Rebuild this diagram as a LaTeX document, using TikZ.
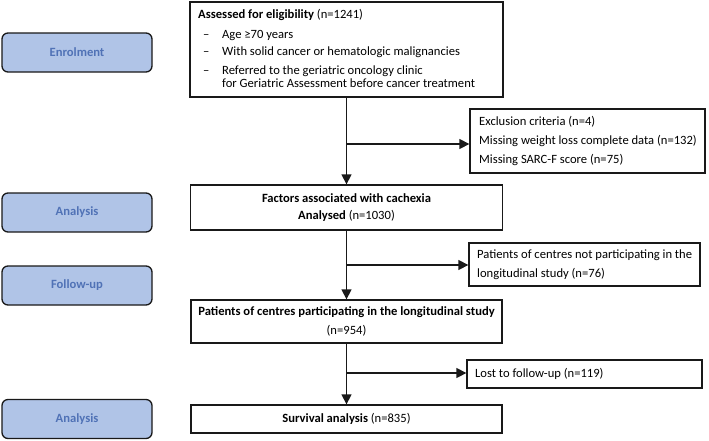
\documentclass[tikz,border=0pt]{standalone}
\usepackage{fontspec}
\setmainfont{Carlito}
\usetikzlibrary{arrows.meta}
\definecolor{phasefill}{RGB}{176,196,231}
\definecolor{phasetext}{RGB}{80,114,182}
\definecolor{edge}{RGB}{25,25,25}
\begin{document}
\begin{tikzpicture}[x=1pt,y=-1pt,
  every node/.style={font=\fontsize{12.6}{13.2}\selectfont},
  phase/.style={draw=edge, line width=1.3pt, rounded corners=6pt, fill=phasefill,
    text=phasetext, font=\fontsize{12.6}{13.2}\selectfont\bfseries,
    minimum width=150pt, minimum height=39pt, inner sep=0pt},
  mainbox/.style={draw=edge, line width=1.3pt, inner sep=0pt, align=center},
  txt/.style={anchor=west, align=left, inner sep=0pt},
  flow/.style={draw=edge, line width=1.3pt, -{Triangle[length=10pt,width=10pt]}},
  link/.style={draw=edge, line width=1.3pt}]
\useasboundingbox (0,0) rectangle (709,440);

% phase labels
\node[phase] (enrol)  at (77,52.5)  {Enrolment};
\node[phase] (anal1)  at (77,212.5) {Analysis};
\node[phase] (follow) at (77,285.5) {Follow-up};
\node[phase] (anal2)  at (77,419)   {Analysis};

% main boxes
\node[mainbox, minimum width=313pt, minimum height=95pt] (assess) at (346.5,49.5) {};
\node[txt, anchor=north west] (assesstxt) at (198,9) {%
  \textbf{Assessed for eligibility} (n=1241)\\[7pt]
  \hspace*{5pt}\makebox[19pt][l]{--}Age ≥70 years\\[4pt]
  \hspace*{5pt}\makebox[19pt][l]{--}With solid cancer or hematologic malignancies\\[5pt]
  \hspace*{5pt}\makebox[19pt][l]{--}Referred to the geriatric oncology clinic\\
  \hspace*{24pt}for Geriatric Assessment before cancer treatment};

\node[mainbox, minimum width=312pt, minimum height=45pt] (factors) at (346.5,207.5)
  {\textbf{Factors associated with cachexia}\\[4pt]\textbf{Analysed} (n=1030)};

\node[mainbox, minimum width=311pt, minimum height=43pt] (partic) at (346.5,321.5)
  {\textbf{Patients of centres participating in the longitudinal study}\\[6pt](n=954)};

\node[mainbox, minimum width=311pt, minimum height=28pt] (surv) at (346.5,419)
  {\textbf{Survival analysis} (n=835)};

% side boxes
\node[mainbox, minimum width=235pt, minimum height=64pt] (excl) at (587.5,141) {};
\node[txt] (excltxt) at (479,141) {Exclusion criteria (n=4)\\[6pt]
  Missing weight loss complete data (n=132)\\[6pt]
  Missing SARC-F score (n=75)};

\node[mainbox, minimum width=231pt, minimum height=43pt] (notpart) at (584.5,264.5) {};
\node[txt] (notparttxt) at (477,264.5) {Patients of centres not participating in the\\[5.5pt]
  longitudinal study (n=76)};

\node[mainbox, minimum width=235pt, minimum height=28pt] (lost) at (584.5,374) {};
\node[txt] (losttxt) at (475,374) {Lost to follow-up (n=119)};

% connectors
\coordinate (b1) at (346.5,144);
\coordinate (b2) at (346.5,265);
\coordinate (b3) at (346.5,373);
\draw[flow] (assess.south) -- (factors.north);
\draw[flow] (b1) -- (b1 -| excl.west);
\draw[flow] (factors.south) -- (partic.north);
\draw[flow] (b2) -- (b2 -| notpart.west);
\draw[flow] (partic.south) -- (surv.north);
\draw[flow] (b3) -- (b3 -| lost.west);
\end{tikzpicture}
\end{document}
